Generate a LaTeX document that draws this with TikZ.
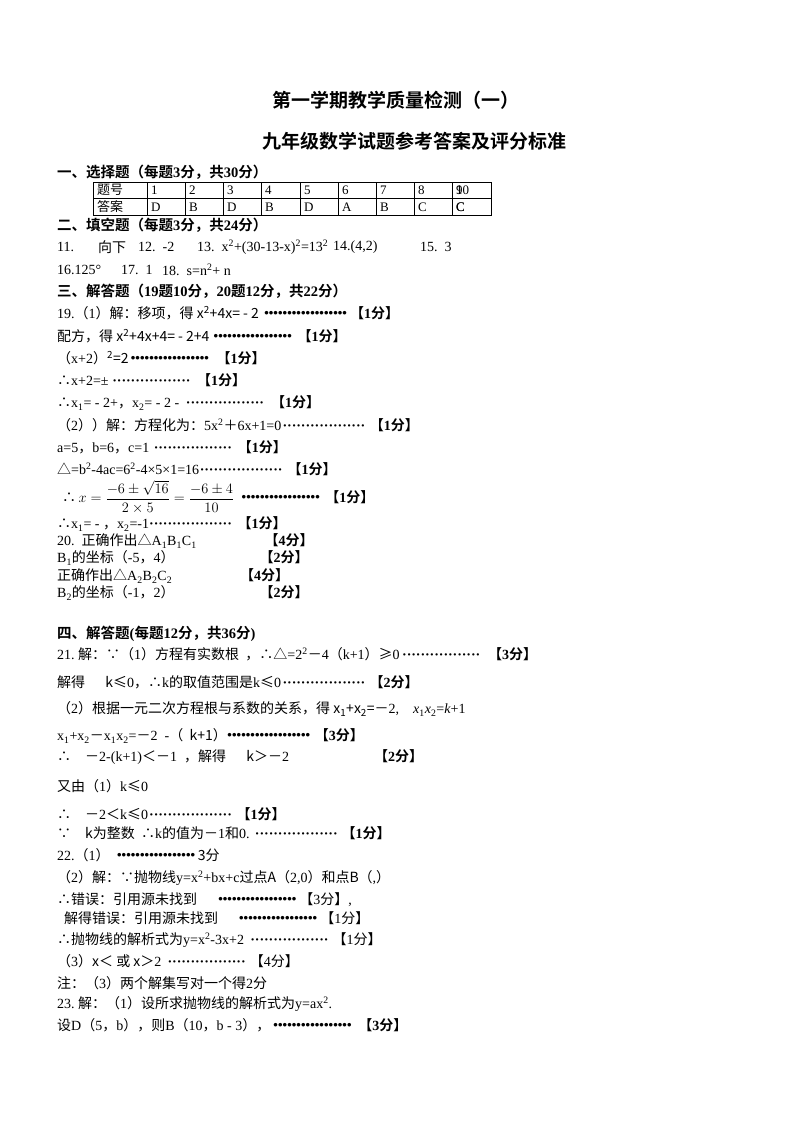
\documentclass[tikz,border=0pt]{standalone}
\usepackage{amsmath}
\usepackage{fontspec}
\setmainfont{Liberation Serif}
\newfontfamily\cjk{Noto Sans CJK SC}[BoldFont={Noto Sans CJK SC Bold}]
\XeTeXinterchartokenstate=1
\newXeTeXintercharclass\cjkclass
\count255="4E00 \loop\XeTeXcharclass\count255=\cjkclass\ifnum\count255<"9FFF\advance\count255 by 1\repeat
\count255="3000 \loop\XeTeXcharclass\count255=\cjkclass\ifnum\count255<"303F\advance\count255 by 1\repeat
\count255="FF01 \loop\XeTeXcharclass\count255=\cjkclass\ifnum\count255<"FF5E\advance\count255 by 1\repeat
\XeTeXcharclass"2234=\cjkclass \XeTeXcharclass"2235=\cjkclass \XeTeXcharclass"25B3=\cjkclass
\XeTeXcharclass"2264=\cjkclass \XeTeXcharclass"2265=\cjkclass
\XeTeXinterchartoks 0 \cjkclass = {\cjk}
\XeTeXinterchartoks 4095 \cjkclass = {\cjk}
\XeTeXinterchartoks \cjkclass 0 = {\rmfamily}
\newcommand\dts[1][85pt]{\leaders\hbox to 4.6pt{\hss\textbf{·}\hss}\hskip#1\relax}
\newcommand\su[1]{\textsuperscript{#1}}
\newcommand\sbb[1]{\textsubscript{#1}}
\begin{document}
\begin{tikzpicture}[x=1pt,y=-1pt,
  ln/.style={anchor=west,inner sep=0pt,font=\fontsize{14}{16}\selectfont},
  hd/.style={anchor=west,inner sep=0pt,font=\fontsize{14.5}{16}\selectfont\bfseries},
  tt/.style={inner sep=0pt,font=\fontsize{19}{22}\selectfont\bfseries},
  cell/.style={anchor=west,inner sep=0pt,font=\fontsize{13}{15}\selectfont}]
\fill[white] (0,0) rectangle (800,1132);
\useasboundingbox (0,0) rectangle (800,1132);
\node[tt] (t1) at (396,100) {第一学期教学质量检测（一）};
\node[tt] (t2) at (414,141) {九年级数学试题参考答案及评分标准};
\node[hd] (h1) at (57,172) {一、选择题（每题3分，共30分）};
% table
\draw[line width=0.6pt] (93,182) rectangle (491,215);
\draw[line width=0.6pt] (93,198.5) -- (491,198.5);
\foreach \x in {147,185,223,261,300,338,376,414,452} \draw[line width=0.6pt] (\x,182) -- (\x,215);
\node[cell] (c0) at (97,190) {题号};
\node[cell] (d0) at (97,207) {答案};
\foreach \x/\a/\b [count=\i] in {147/1/D,185/2/B,223/3/D,261/4/B,300/5/D,338/6/A,376/7/B,414/8/C,452/9/C}
  {\node[cell] (c\i) at (\x+4,190) {\a}; \node[cell] (d\i) at (\x+4,207) {\b};}
\node[cell] (c10) at (456,190) {10}; \node[cell] (d10) at (456,207) {C};
\node[hd] (h2) at (57,225) {二、填空题（每题3分，共24分）};
\node[ln] (a11) at (57,247) {11.};
\node[ln] (a11b) at (98,247) {向下};
\node[ln] (a12) at (138,247) {12.\ \ -2};
\node[ln] (a13) at (197,247) {13.\ \ x\su{2}+(30-13-x)\su{2}=13\su{2}};
\node[ln] (a14) at (333,247) {14.(4,2)};
\node[ln] (a15) at (420,247) {15.\ \ 3};
\node[ln] (a16) at (57,270) {16.125°};
\node[ln] (a17) at (121,270) {17.\ \ 1};
\node[ln] (a18) at (162,270) {18.\ \ s=n\su{2}+ n};
\node[hd] (h3) at (57,291) {三、解答题（19题10分，20题12分，共22分）};
\node[ln] (b1) at (57,313) {19.（1）解：移项，得 x\su{2}+4x= - 2 \dts\ \textbf{【1分】}};
\node[ln] (b2) at (57,336) {配方，得 x\su{2}+4x+4= - 2+4\dts\ \textbf{【1分】}};
\node[ln] (b3) at (57,358) {（x+2）\su{2}=2\dts\ \textbf{【1分】}};
\node[ln] (b4) at (57,380) {∴x+2=±\dts\ \textbf{【1分】}};
\node[ln] (b5) at (57,403) {∴x\sbb{1}= - 2+，x\sbb{2}= - 2 - \dts\ \textbf{【1分】}};
\node[ln] (b6) at (57,425) {（2））解：方程化为：5x\su{2}＋6x+1=0\dts\ \textbf{【1分】}};
\node[ln] (b7) at (57,447) {a=5，b=6，c=1\dts\ \textbf{【1分】}};
\node[ln] (b8) at (57,469) {△=b\su{2}-4ac=6\su{2}-4×5×1=16\dts\ \textbf{【1分】}};
\node[ln] (b9) at (62,497) {∴$\,x=\dfrac{-6\pm\sqrt{16}}{2\times5}=\dfrac{-6\pm4}{10}$\ \dts\ \textbf{【1分】}};
\node[ln] (b10) at (57,524) {∴x\sbb{1}= - ，x\sbb{2}=-1\dts\ \textbf{【1分】}};
\node[ln] (b11) at (57,541) {20.\ \ 正确作出△A\sbb{1}B\sbb{1}C\sbb{1}\dts[68pt]\textbf{【4分】}};
\node[ln] (b12) at (57,558) {B\sbb{1}的坐标（-5，4）\dts\textbf{【2分】}};
\node[ln] (b13) at (57,576) {正确作出△A\sbb{2}B\sbb{2}C\sbb{2}\dts[68pt]\textbf{【4分】}};
\node[ln] (b14) at (57,593) {B\sbb{2}的坐标（-1，2）\dts\textbf{【2分】}};
\node[hd] (h4) at (57,634) {四、解答题(每题12分，共36分)};
\node[ln] (e1) at (57,654) {21.\ 解：∵（1）方程有实数根\ \ ，∴△=2\su{2}－4（k+1）≥0\dts\ \textbf{【3分】}};
\node[ln] (e2) at (57,682) {解得\quad\ \ k≤0，∴k的取值范围是k≤0\dts\ \textbf{【2分】}};
\node[ln] (e3) at (57,709) {（2）根据一元二次方程根与系数的关系，得 \textit{x}\sbb{1}+\textit{x}\sbb{2}=－2,\quad \textit{x}\sbb{1}\textit{x}\sbb{2}=\textit{k}+1};
\node[ln] (e4) at (57,736) {x\sbb{1}+x\sbb{2}－x\sbb{1}x\sbb{2}=－2\ \ -（\ \ k+1）\dts\ \textbf{【3分】}};
\node[ln] (e5) at (57,757) {∴\quad －2-(k+1)＜－1\ \ ，解得\quad\ \ k＞－2\dts\textbf{【2分】}};
\node[ln] (e6) at (57,786) {又由（1）k≤0};
\node[ln] (e7) at (57,814) {∴\quad －2＜k≤0\dts\ \textbf{【1分】}};
\node[ln] (e8) at (57,833) {∵\quad k为整数\ \ ∴k的值为－1和0.\ \dts\ \textbf{【1分】}};
\node[ln] (f1) at (57,855) {22.（1）\ \dts 3分};
\node[ln] (f2) at (57,878) {（2）解：∵抛物线y=x\su{2}+bx+c过点\textit{A}（2,0）和点\textit{B}（,）};
\node[ln] (f3) at (57,900) {∴错误：引用源未找到\quad\ \dts【3分】,};
\node[ln] (f4) at (64,918) {解得错误：引用源未找到\quad\ \dts【1分】};
\node[ln] (f5) at (57,940) {∴抛物线的解析式为y=x\su{2}-3x+2\ \dts【1分】};
\node[ln] (f6) at (57,961) {（3）\textit{x}＜\ 或\ \textit{x}＞2\ \dts【4分】};
\node[ln] (f7) at (57,983) {注：（3）两个解集写对一个得2分};
\node[ln] (f8) at (57,1004) {23.\ 解：（1）设所求抛物线的解析式为y=ax\su{2}.};
\node[ln] (f9) at (57,1025) {设D（5，b），则B（10，b - 3），\dts\ \textbf{【3分】}};
\end{tikzpicture}
\end{document}
